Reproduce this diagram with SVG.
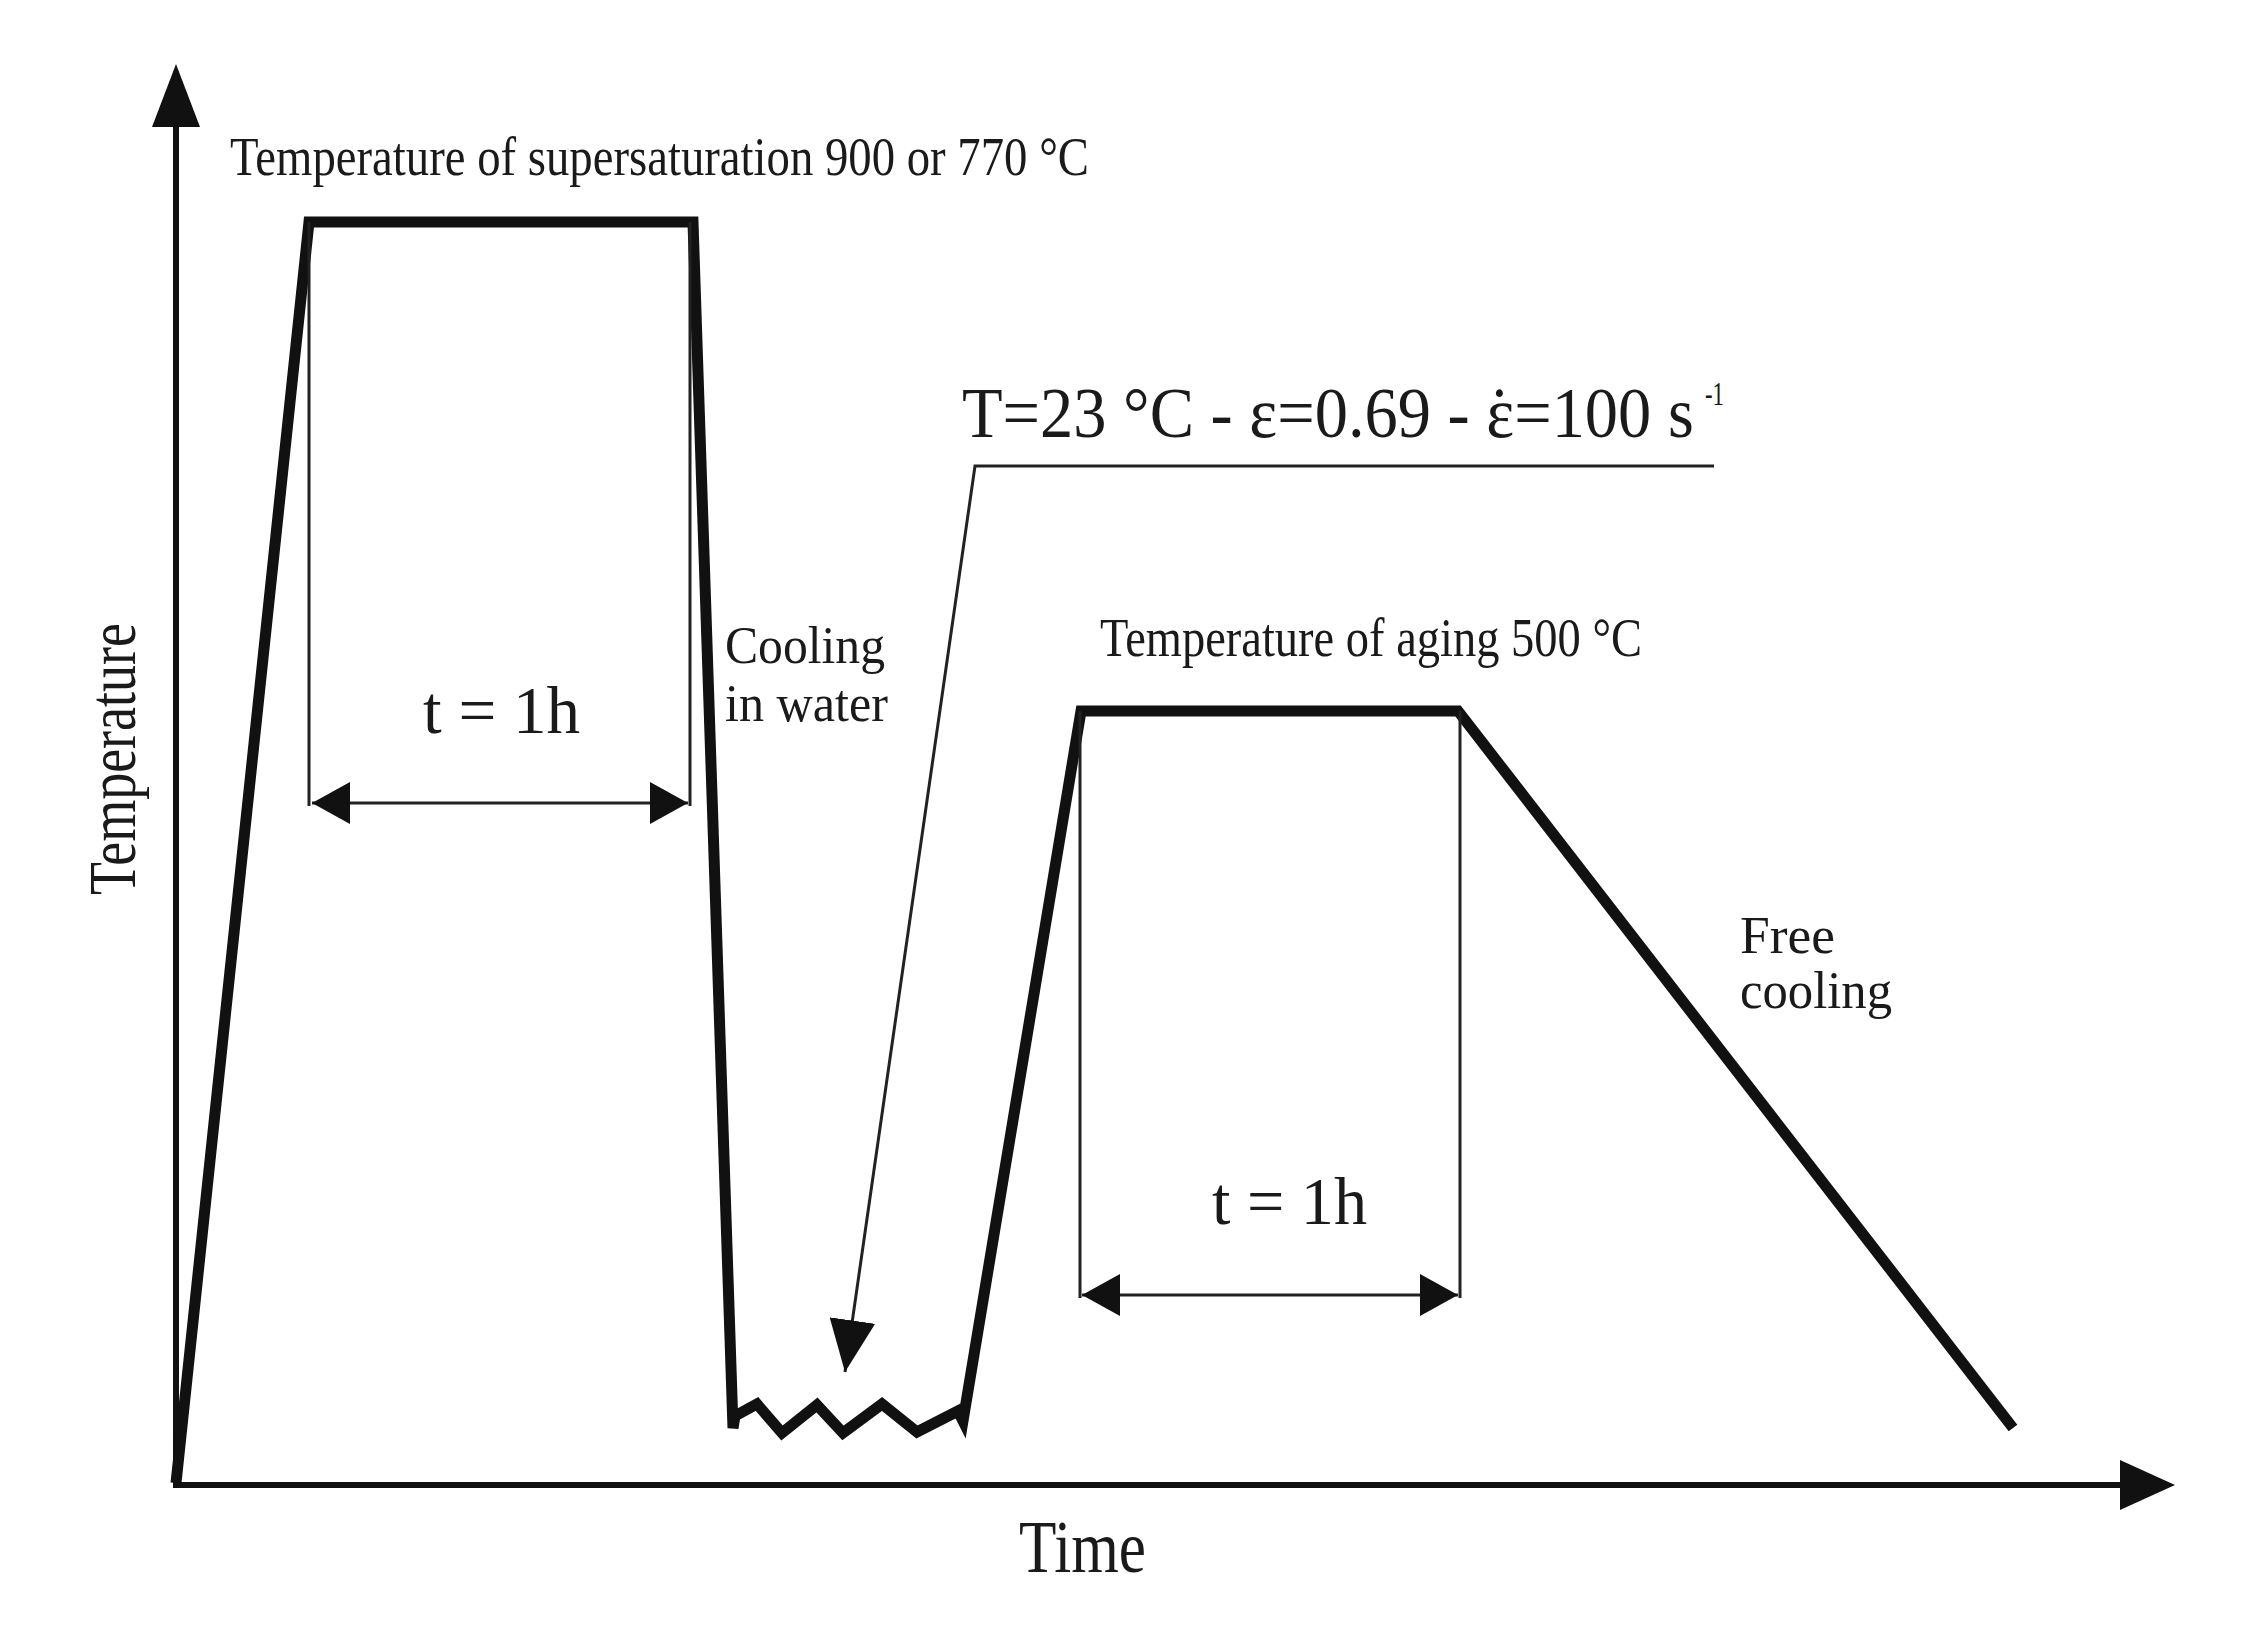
<svg xmlns="http://www.w3.org/2000/svg" width="2246" height="1626" viewBox="0 0 2246 1626">
<style>
.t{font-family:"Liberation Serif","Times New Roman",serif;fill:#1a1a1a}
.thick{fill:none;stroke:#111;stroke-width:11;stroke-linejoin:miter;stroke-miterlimit:10}
.thin{fill:none;stroke:#222;stroke-width:3}
.axis{fill:none;stroke:#111;stroke-width:6}
.head{fill:#111}
</style>
<defs>
<marker id="dim" markerUnits="userSpaceOnUse" markerWidth="40" markerHeight="42" refX="38" refY="21" orient="auto-start-reverse">
<path d="M0,0 L38,21 L0,42 Z" class="head"/>
</marker>
<marker id="ptr" markerUnits="userSpaceOnUse" markerWidth="54" markerHeight="46" refX="52" refY="23" orient="auto">
<path d="M0,0 L52,23 L0,46 Z" class="head"/>
</marker>
</defs>
<rect width="2246" height="1626" fill="#fff"/>

<g id="axes">
<line class="axis" x1="176" y1="1486" x2="176" y2="120"/>
<path class="head" d="M176,64 L200,127 L152,127 Z"/>
<line class="axis" x1="173" y1="1485" x2="2125" y2="1485"/>
<path class="head" d="M2175,1485 L2120,1460 L2120,1510 Z"/>
</g>

<g id="curve">
<path class="thick" d="M176,1483 L309,222 L693,222 L733,1428 L735,1416 L757,1404 L782,1433 L817,1405 L843,1433 L882,1404 L917,1432 L958,1411 L963,1421 L1081,711 L1458,711 L2013,1428"/>
</g>

<g id="connectors">
<polyline class="thin" points="309,222 309,806"/>
<polyline class="thin" points="690,222 690,806"/>
<line class="thin" x1="312" y1="803" x2="688" y2="803" marker-start="url(#dim)" marker-end="url(#dim)"/>
<polyline class="thin" points="1080,711 1080,1298"/>
<polyline class="thin" points="1460,711 1460,1298"/>
<line class="thin" x1="1082" y1="1295" x2="1458" y2="1295" marker-start="url(#dim)" marker-end="url(#dim)"/>
<polyline class="thin" points="1714,466 975,466 845,1372" marker-end="url(#ptr)"/>
</g>

<g id="labels">
<text class="t" x="230" y="175" font-size="54" textLength="859" lengthAdjust="spacingAndGlyphs">Temperature of supersaturation 900 or 770 °C</text>
<text class="t" transform="translate(962,437) scale(0.923,1)" x="0" y="0" font-size="72">T=23 °C - ε=0.69 - ε<tspan dx="-28">˙</tspan><tspan dx="4">=100 s</tspan></text>
<text class="t" x="1705" y="405" font-size="34" textLength="19" lengthAdjust="spacingAndGlyphs">-1</text>
<text class="t" x="725" y="663" font-size="52" textLength="160" lengthAdjust="spacingAndGlyphs">Cooling</text>
<text class="t" x="725" y="721" font-size="52" textLength="163" lengthAdjust="spacingAndGlyphs">in water</text>
<text class="t" x="1100" y="656" font-size="54" textLength="542" lengthAdjust="spacingAndGlyphs">Temperature of aging 500 °C</text>
<text class="t" x="423" y="733" font-size="68" textLength="157" lengthAdjust="spacingAndGlyphs">t = 1h</text>
<text class="t" x="1212" y="1224" font-size="68" textLength="155" lengthAdjust="spacingAndGlyphs">t = 1h</text>
<text class="t" x="1740" y="953" font-size="52" textLength="95" lengthAdjust="spacingAndGlyphs">Free</text>
<text class="t" x="1740" y="1008" font-size="52" textLength="152" lengthAdjust="spacingAndGlyphs">cooling</text>
<text class="t" x="1019" y="1572" font-size="74" textLength="127" lengthAdjust="spacingAndGlyphs">Time</text>
<text class="t" transform="translate(135,895) rotate(-90)" x="0" y="0" font-size="68" textLength="272" lengthAdjust="spacingAndGlyphs">Temperature</text>
</g>
</svg>
